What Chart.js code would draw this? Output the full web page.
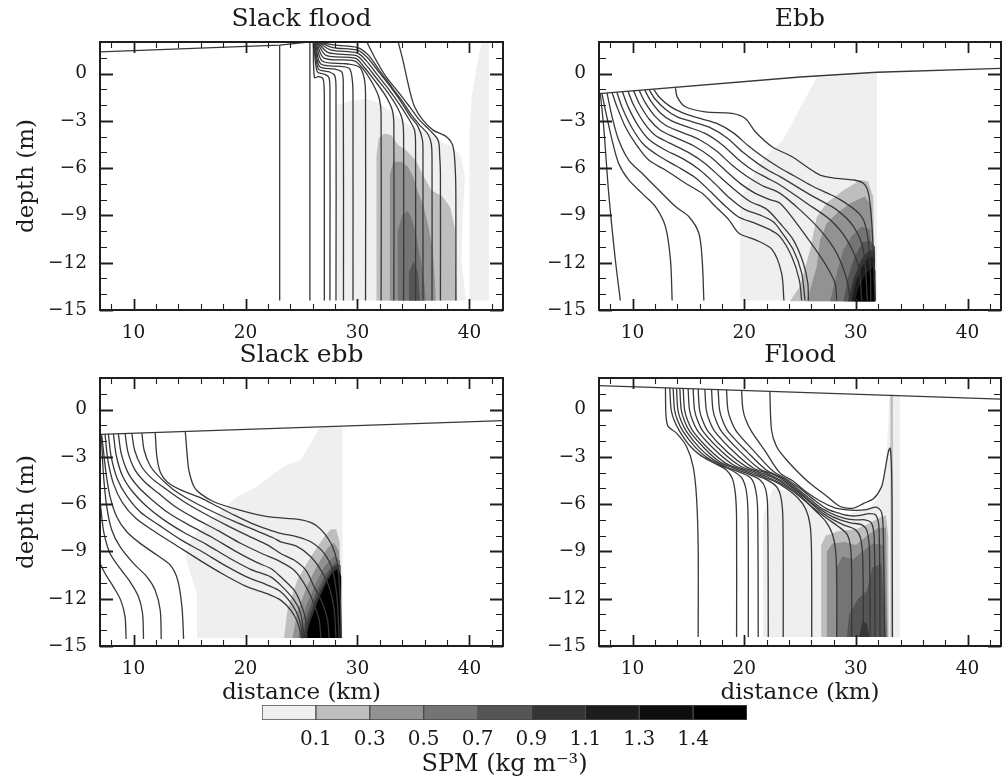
<!DOCTYPE html>
<html>
<head>
<meta charset="utf-8">
<title>SPM sections</title>
<script src="https://cdn.jsdelivr.net/npm/chart.js@4.4.1/dist/chart.umd.min.js"></script>
<style>
  body { margin: 0; background: #fff; }
  #page { position: relative; width: 1008px; height: 780px; overflow: hidden; background: #fff; }
  canvas { position: absolute; }
</style>
</head>
<body>
<div id="page">
  <canvas id="slackFlood" width="510" height="345" style="left:0;top:0"></canvas>
  <canvas id="ebb" width="498" height="345" style="left:510px;top:0"></canvas>
  <canvas id="slackEbb" width="510" height="372" style="left:0;top:336px"></canvas>
  <canvas id="flood" width="498" height="372" style="left:510px;top:336px"></canvas>
  <canvas id="spmBar" width="530" height="80" style="left:240px;top:700px"></canvas>
</div>
<script>
// axes
const xTicks = [10, 20, 30, 40];
const xMinorTicks = [8, 12, 14, 16, 18, 22, 24, 26, 28, 32, 34, 36, 38, 42];
const depthTicks = [0, -3, -6, -9, -12, -15];
const depthMinorTicks = [1, -1, -2, -4, -5, -7, -8, -10, -11, -13, -14];

// colour bar (SPM classes)
const spmLabels = ['0.1', '0.3', '0.5', '0.7', '0.9', '1.1', '1.3', '1.4'];
const spmTickPos = [1, 2, 3, 4, 5, 6, 7, 8];
const spmShades = ['#efefef', '#bebebe', '#929292', '#747474', '#555555', '#353535', '#1d1d1d', '#0d0d0d', '#000000'];

// ---- Slack flood ----
const slackFloodSurface = [[7, 1.37], [23.05, 1.8], [27, 2.1]];
const slackFloodLines = [
  [[23.05, 1.8], [23.05, -14.4]],
  [[25.75, 2.1], [25.75, -14.4]],
  [[26.05, 2.0], [26.15, -0.25], [26.5, -0.2], [26.9, -0.3], [27.02, -0.9], [27.04, -2.0], [27.04, -14.4]],
  [[26.1, 2.0], [26.4, 0.12], [27.1, -0.05], [27.45, -0.25], [27.54, -1.0], [27.54, -14.4]],
  [[26.15, 2.0], [26.5, 0.3], [27.5, 0.1], [27.95, -0.1], [28.08, -0.8], [28.08, -14.4]],
  [[26.2, 2.0], [26.6, 0.45], [28.0, 0.28], [28.6, 0.1], [28.73, -0.6], [28.75, -14.4]],
  [[26.25, 2.0], [26.7, 0.62], [28.5, 0.45], [29.3, 0.3], [29.55, -0.5], [29.6, -1.5], [29.6, -14.4]],
  [[26.3, 2.0], [26.85, 0.8], [29.0, 0.62], [30.2, 0.4], [30.6, -0.3], [30.72, -1.3], [30.72, -14.4]],
  [[26.35, 2.0], [27.0, 0.98], [29.7, 0.8], [30.5, 0.3], [31.4, -0.7], [31.95, -1.6], [32.11, -2.6], [32.11, -14.4]],
  [[26.4, 2.0], [27.2, 1.15], [29.8, 0.97], [30.6, 0.4], [31.6, -0.5], [32.5, -1.4], [33.1, -2.3], [33.25, -3.3], [33.25, -14.4]],
  [[26.45, 2.0], [27.4, 1.32], [29.9, 1.13], [30.7, 0.6], [31.7, -0.3], [32.7, -1.2], [33.6, -2.2], [34.0, -2.9], [34.12, -3.8], [34.12, -14.4]],
  [[26.5, 2.0], [27.6, 1.5], [30.0, 1.3], [30.8, 0.8], [31.8, -0.1], [32.8, -1.0], [33.8, -2.0], [34.6, -2.9], [35.1, -3.6], [35.19, -4.6], [35.19, -14.4]],
  [[26.55, 2.0], [27.8, 1.65], [30.0, 1.48], [30.9, 1.0], [31.9, 0.1], [32.9, -0.8], [33.9, -1.8], [34.7, -2.7], [35.4, -3.35], [35.8, -4.2], [35.85, -5.2], [35.85, -14.4]],
  [[26.6, 2.0], [28.0, 1.8], [30.0, 1.65], [31.0, 1.15], [32.0, 0.15], [33.0, -0.8], [34.0, -1.75], [34.8, -2.6], [35.6, -3.3], [36.3, -3.85], [36.6, -4.5], [36.66, -5.5], [36.66, -14.4]],
  [[30.77, 2.1], [31.67, 0.84], [32.56, -0.21], [33.76, -1.27], [34.66, -2.11], [35.55, -2.96], [36.45, -3.59], [37.2, -4.22], [37.35, -5.28], [37.41, -6.33], [37.41, -14.4]],
  [[33.6, 2.1], [34.06, 0.84], [34.66, -1.06], [35.1, -2.11], [35.85, -2.96], [36.75, -3.59], [37.94, -4.01], [38.54, -4.64], [38.75, -6.33], [38.79, -8.0], [38.79, -14.4]]
];
const slackFloodShading = [
  [1, [[28.2, -14.4], [28.2, -2.0], [29.5, -1.7], [30.8, -1.6], [32.0, -1.9], [33.2, -2.5], [34.4, -3.2], [35.6, -3.6], [36.6, -3.9], [37.6, -4.4], [38.4, -4.6], [39.2, -5.2], [39.6, -6.5], [39.4, -9.0], [39.3, -12.0], [39.7, -14.4]]],
  [1, [[40.05, -14.4], [40.0, -4.0], [40.2, -1.5], [40.8, 1.0], [41.1, 2.0], [41.75, 2.0], [41.75, -14.4]]],
  [2, [[31.7, -14.4], [31.7, -5.2], [31.9, -4.1], [32.4, -3.8], [33.0, -3.9], [33.6, -4.5], [34.4, -4.9], [35.2, -5.5], [35.9, -6.5], [36.6, -7.4], [37.6, -7.8], [38.3, -8.5], [38.7, -9.8], [38.8, -12.5], [38.9, -14.4]]],
  [3, [[32.9, -14.4], [32.9, -6.4], [33.2, -5.6], [33.9, -5.6], [34.5, -5.9], [35.0, -6.6], [35.4, -7.5], [35.9, -8.4], [36.3, -9.6], [36.7, -11.0], [36.9, -13.0], [37.0, -14.4]]],
  [4, [[33.6, -14.4], [33.6, -10.0], [34.0, -9.0], [34.5, -8.7], [34.9, -9.3], [35.3, -10.5], [35.7, -12.0], [36.0, -13.5], [36.1, -14.4]]],
  [5, [[34.6, -14.4], [34.6, -12.6], [35.0, -11.9], [35.4, -12.6], [35.6, -14.4]]]
];

// ---- Ebb ----
const ebbSurface = [[7, -1.27], [25, -0.22], [31.9, 0.08], [43, 0.33]];
const ebbLines = [
  [[7.12, -1.27], [7.42, -3.38], [7.87, -7.6], [8.46, -11.8], [8.91, -14.4]],
  [[7.27, -1.27], [7.57, -2.32], [8.17, -4.22], [8.76, -5.7], [9.66, -6.75], [10.86, -7.6], [12.05, -8.44], [12.95, -9.71], [13.4, -11.82], [13.55, -14.4]],
  [[7.72, -1.25], [8.17, -2.74], [8.76, -4.22], [9.66, -5.49], [10.86, -6.33], [12.35, -7.39], [13.85, -8.44], [15.04, -9.07], [15.94, -10.13], [16.24, -11.82], [16.39, -14.4]],
  [[8.17, -1.2], [8.61, -2.11], [9.36, -3.38], [10.26, -4.43], [11.45, -5.49], [12.95, -6.12], [14.74, -6.96], [16.24, -7.6], [17.43, -8.44], [18.63, -9.28], [19.53, -10.13], [21.02, -10.55], [22.52, -11.18], [23.35, -12.66], [23.56, -14.4]],
  [[8.6, -1.19], [9.1, -2.2], [10.0, -3.5], [11.0, -4.5], [12.3, -5.2], [14.0, -5.9], [15.6, -6.6], [17.0, -7.5], [18.3, -8.4], [19.5, -9.1], [21.0, -9.5], [22.3, -9.9], [23.21, -10.34], [24.26, -11.6], [24.94, -13.1], [25.15, -14.4]],
  [[9.1, -1.16], [9.6, -2.1], [10.5, -3.3], [11.5, -4.2], [12.8, -4.8], [14.5, -5.4], [16.0, -6.1], [17.4, -7.0], [18.7, -7.9], [20.0, -8.6], [21.5, -9.0], [22.6, -9.4], [23.21, -9.92], [24.4, -11.18], [25.15, -12.66], [25.45, -14.4]],
  [[9.6, -1.13], [10.1, -2.0], [11.0, -3.1], [12.0, -3.9], [13.3, -4.4], [15.0, -5.0], [16.5, -5.7], [17.9, -6.6], [19.2, -7.4], [20.5, -8.1], [22.0, -8.6], [23.21, -9.5], [24.4, -10.55], [25.3, -12.03], [25.7, -13.3], [25.75, -14.4]],
  [[10.1, -1.1], [10.6, -1.9], [11.5, -2.9], [12.5, -3.6], [13.8, -4.05], [15.5, -4.6], [17.0, -5.3], [18.4, -6.2], [19.7, -7.0], [21.0, -7.6], [22.3, -8.0], [23.21, -8.23], [24.7, -9.5], [26.2, -10.97], [27.4, -12.24], [28.14, -13.3], [28.29, -14.4]],
  [[10.6, -1.07], [11.1, -1.8], [12.0, -2.7], [13.0, -3.3], [14.3, -3.7], [16.0, -4.2], [17.5, -4.9], [18.9, -5.8], [20.2, -6.5], [21.6, -7.1], [23.21, -7.6], [25.0, -8.65], [26.8, -9.92], [28.29, -11.4], [29.2, -13.1], [29.5, -14.4]],
  [[11.1, -1.05], [11.6, -1.7], [12.5, -2.5], [13.5, -3.0], [14.8, -3.35], [16.5, -3.8], [18.0, -4.5], [19.4, -5.4], [20.7, -6.1], [22.0, -6.6], [23.21, -7.07], [25.6, -8.23], [27.7, -9.28], [29.2, -10.55], [30.24, -12.24], [30.53, -14.4]],
  [[11.5, -1.03], [12.0, -1.6], [13.0, -2.3], [14.0, -2.75], [15.3, -3.05], [17.0, -3.45], [18.5, -4.1], [19.9, -5.0], [21.2, -5.7], [22.3, -6.2], [23.21, -6.54], [26.2, -7.81], [28.29, -8.65], [29.79, -9.71], [30.68, -11.18], [31.04, -14.4]],
  [[11.9, -1.0], [12.4, -1.5], [13.4, -2.1], [14.5, -2.5], [15.8, -2.8], [17.5, -3.15], [19.0, -3.75], [20.4, -4.6], [21.7, -5.3], [23.0, -5.9], [24.5, -6.5], [26.0, -7.1], [27.5, -7.6], [28.6, -8.0], [30.1, -8.75], [30.7, -9.3], [31.1, -10.5], [31.3, -12.5], [31.35, -14.4]],
  [[13.85, -0.92], [14.0, -1.48], [14.74, -2.11], [16.5, -2.43], [18.9, -2.53], [20.1, -2.85], [21.0, -3.69], [22.5, -4.64], [24.3, -5.28], [25.6, -5.91], [26.8, -6.44], [28.29, -6.65], [29.79, -6.75], [30.68, -6.96], [31.13, -7.6], [31.43, -9.5], [31.64, -12.66], [31.73, -14.4]]
];
const ebbShading = [
  [1, [[19.62, -14.4], [19.62, -8.0], [21.5, -5.6], [23.5, -4.2], [25.0, -2.2], [26.5, -0.25], [31.9, 0.02], [31.9, -14.4]]],
  [2, [[24.1, -14.45], [25.0, -13.5], [25.9, -11.2], [26.5, -9.1], [27.4, -8.2], [28.9, -7.4], [30.4, -6.75], [31.1, -6.85], [31.55, -7.8], [31.75, -14.45]]],
  [3, [[25.6, -14.45], [26.5, -12.24], [26.8, -10.55], [27.4, -9.5], [28.3, -8.86], [29.5, -8.23], [30.8, -7.8], [31.4, -8.4], [31.7, -14.45]]],
  [4, [[27.7, -14.45], [28.3, -12.66], [28.9, -11.18], [29.6, -10.34], [30.5, -9.7], [31.3, -9.9], [31.7, -14.45]]],
  [5, [[28.9, -14.45], [29.3, -12.9], [29.9, -11.6], [30.6, -10.7], [31.3, -10.6], [31.72, -11.0], [31.72, -14.45]]],
  [6, [[29.3, -14.45], [29.8, -13.0], [30.5, -11.8], [31.2, -11.2], [31.72, -11.3], [31.72, -14.45]]],
  [7, [[29.6, -14.45], [30.0, -13.2], [30.6, -12.2], [31.2, -11.6], [31.7, -11.7], [31.75, -14.45]]],
  [9, [[29.9, -14.45], [30.3, -13.5], [30.9, -12.7], [31.5, -12.3], [31.75, -12.5], [31.75, -14.45]]]
];

// ---- Slack ebb ----
const slackEbbSurface = [[7, -1.58], [43, -0.7]];
const slackEbbLines = [
  [[7.0, -9.76], [7.45, -10.4], [8.2, -11.25], [8.85, -12.09], [9.24, -13.15], [9.33, -14.55]],
  [[7.0, -5.7], [7.09, -6.37], [7.36, -7.86], [7.9, -9.13], [8.79, -10.08], [9.69, -10.93], [10.44, -11.88], [10.8, -12.94], [10.89, -14.55]],
  [[7.12, -1.6], [7.3, -4.04], [7.6, -6.16], [8.05, -7.64], [8.79, -8.7], [9.99, -9.76], [11.19, -10.61], [11.93, -11.46], [12.38, -12.73], [12.47, -14.55]],
  [[7.15, -1.6], [7.3, -2.56], [7.54, -4.04], [7.9, -5.53], [8.49, -6.8], [9.39, -7.75], [10.59, -8.49], [12.08, -9.23], [13.28, -9.87], [13.94, -10.82], [14.32, -12.52], [14.47, -14.55]],
  [[7.45, -1.57], [7.7, -3.2], [8.2, -4.7], [9.0, -5.9], [10.2, -6.9], [12.0, -7.8], [14.0, -8.7], [16.0, -9.6], [18.0, -10.45], [20.0, -11.2], [22.0, -11.7], [23.14, -12.09], [24.04, -12.73], [24.63, -13.47], [25.02, -14.5]],
  [[7.75, -1.56], [8.0, -3.0], [8.55, -4.4], [9.4, -5.5], [10.6, -6.5], [12.3, -7.35], [14.2, -8.25], [16.2, -9.05], [18.2, -9.9], [20.2, -10.65], [22.0, -11.15], [23.14, -11.56], [24.19, -12.41], [24.78, -13.26], [25.14, -14.5]],
  [[8.2, -1.55], [8.45, -2.9], [9.0, -4.2], [9.9, -5.2], [11.1, -6.1], [12.7, -7.0], [14.5, -7.8], [16.5, -8.55], [18.5, -9.4], [20.5, -10.15], [22.2, -10.6], [23.14, -11.14], [24.34, -12.09], [24.93, -12.94], [25.23, -14.5]],
  [[8.64, -1.54], [8.9, -2.8], [9.5, -4.0], [10.4, -4.9], [11.6, -5.7], [13.2, -6.6], [15.0, -7.35], [17.0, -8.1], [19.0, -8.95], [21.0, -9.7], [22.3, -10.1], [23.14, -10.61], [24.34, -11.46], [24.93, -12.3], [25.38, -13.37], [25.47, -14.5]],
  [[9.24, -1.52], [9.5, -2.7], [10.1, -3.8], [11.0, -4.6], [12.2, -5.3], [13.8, -6.2], [15.6, -6.95], [17.6, -7.7], [19.6, -8.5], [21.5, -9.15], [23.14, -9.66], [24.34, -10.19], [25.23, -11.03], [25.98, -12.09], [26.58, -13.37], [26.73, -14.5]],
  [[9.84, -1.51], [10.1, -2.6], [10.7, -3.6], [11.6, -4.35], [12.8, -5.0], [14.4, -5.8], [16.2, -6.55], [18.2, -7.3], [20.2, -8.0], [22.0, -8.6], [23.14, -9.13], [24.34, -9.55], [25.38, -10.19], [26.13, -11.25], [26.88, -12.3], [27.33, -13.37], [27.47, -14.5]],
  [[10.74, -1.49], [10.95, -2.6], [11.5, -3.6], [12.4, -4.35], [13.6, -5.1], [15.2, -5.8], [17.0, -6.45], [19.0, -7.1], [21.0, -7.7], [22.5, -8.15], [23.14, -8.39], [24.63, -8.7], [25.83, -9.34], [26.73, -10.19], [27.47, -11.25], [27.92, -12.73], [28.07, -14.5]],
  [[11.93, -1.46], [12.08, -2.98], [12.4, -4.0], [13.0, -4.6], [14.2, -5.1], [16.0, -5.6], [17.5, -6.15], [19.0, -6.7], [20.5, -7.2], [22.0, -7.6], [23.14, -7.86], [24.6, -8.07], [25.83, -8.39], [27.03, -9.13], [27.77, -10.19], [28.16, -11.88], [28.37, -14.5]],
  [[14.62, -1.39], [14.8, -3.0], [14.95, -3.9], [15.4, -4.9], [16.0, -5.35], [17.17, -5.85], [19.56, -6.4], [21.95, -6.8], [25.0, -7.0], [26.4, -7.4], [27.6, -8.45], [28.2, -9.76], [28.45, -11.88], [28.55, -14.5]]
];
const slackEbbShading = [
  [1, [[15.67, -14.5], [15.67, -11.67], [15.07, -10.4], [14.62, -9.34], [15.07, -8.28], [16.87, -7.01], [19.26, -5.53], [21.05, -4.89], [22.55, -4.04], [23.74, -3.51], [24.94, -3.19], [26.1, -1.8], [26.6, -1.15], [28.67, -1.1], [28.67, -14.5]]],
  [2, [[23.44, -14.5], [23.74, -12.73], [24.63, -10.82], [25.83, -9.34], [27.03, -8.07], [27.62, -7.6], [28.1, -7.6], [28.4, -8.4], [28.55, -14.5]]],
  [3, [[24.2, -14.5], [24.6, -12.9], [25.5, -11.2], [26.4, -9.9], [27.3, -8.8], [27.9, -8.45], [28.35, -9.0], [28.55, -14.5]]],
  [4, [[24.7, -14.5], [25.3, -12.7], [26.1, -11.3], [27.0, -10.0], [27.9, -9.3], [28.45, -9.6], [28.55, -14.5]]],
  [5, [[24.9, -14.5], [25.5, -13.0], [26.3, -11.6], [27.2, -10.4], [28.0, -9.7], [28.5, -9.9], [28.55, -14.5]]],
  [6, [[25.1, -14.5], [25.6, -13.3], [26.3, -12.0], [27.1, -10.9], [27.8, -10.0], [28.3, -9.8], [28.55, -14.5]]],
  [9, [[25.35, -14.5], [25.8, -13.4], [26.5, -12.1], [27.2, -11.0], [27.8, -10.3], [28.3, -10.1], [28.55, -10.6], [28.55, -14.5]]]
];

// ---- Flood ----
const floodSurface = [[7, 1.52], [43, 0.66]];
const floodLines = [
  [[12.95, 1.38], [13.0, -0.4], [13.19, -1.07], [13.94, -1.5], [14.84, -2.35], [15.43, -3.62], [15.73, -5.53], [15.88, -8.7], [15.88, -14.43]],
  [[13.34, 1.37], [13.46, 0.0], [13.74, -0.7], [14.24, -1.4], [15.13, -2.3], [16.0, -2.86], [17.2, -3.36], [18.4, -3.83], [18.95, -4.4], [19.22, -5.4], [19.32, -7.0], [19.32, -14.43]],
  [[13.64, 1.36], [13.76, 0.0], [14.04, -0.7], [14.54, -1.4], [15.57, -2.35], [16.6, -3.01], [17.8, -3.51], [19.0, -3.9], [19.8, -4.35], [20.2, -5.2], [20.35, -6.8], [20.37, -14.43]],
  [[13.94, 1.35], [14.06, 0.0], [14.34, -0.7], [14.84, -1.4], [16.0, -2.43], [17.2, -3.16], [18.4, -3.63], [19.6, -3.97], [20.6, -4.35], [21.0, -5.0], [21.2, -6.2], [21.26, -14.43]],
  [[14.24, 1.35], [14.36, 0.0], [14.64, -0.7], [15.14, -1.4], [16.5, -2.5], [17.8, -3.31], [19.0, -3.7], [20.2, -4.04], [21.4, -4.45], [21.9, -5.0], [22.1, -6.2], [22.16, -14.43]],
  [[14.54, 1.34], [14.66, 0.0], [14.94, -0.7], [15.44, -1.4], [16.9, -2.55], [18.4, -3.43], [19.6, -3.77], [20.8, -4.11], [22.0, -4.45], [22.9, -4.9], [23.3, -5.6], [23.47, -7.0], [23.5, -14.43]],
  [[14.98, 1.33], [15.1, 0.0], [15.38, -0.7], [15.88, -1.4], [17.44, -2.6], [19.0, -3.5], [20.2, -3.84], [21.4, -4.18], [22.6, -4.52], [23.8, -5.02], [24.8, -5.6], [25.5, -6.3], [25.9, -7.3], [26.03, -9.0], [26.05, -14.43]],
  [[15.43, 1.32], [15.55, 0.0], [15.83, -0.7], [16.33, -1.4], [17.97, -2.65], [19.6, -3.57], [20.8, -3.91], [22.0, -4.25], [23.2, -4.67], [24.4, -5.2], [25.6, -5.9], [26.5, -6.5], [27.3, -7.1], [27.9, -7.9], [28.2, -9.0], [28.29, -11.0], [28.29, -14.43]],
  [[15.88, 1.31], [16.0, 0.0], [16.28, -0.7], [16.78, -1.4], [18.49, -2.7], [20.2, -3.64], [21.4, -3.98], [22.6, -4.32], [23.8, -4.82], [25.0, -5.45], [26.2, -6.25], [27.4, -6.9], [28.4, -7.4], [29.2, -7.9], [29.5, -8.6], [29.62, -10.0], [29.63, -14.43]],
  [[16.48, 1.29], [16.6, 0.0], [16.88, -0.7], [17.38, -1.4], [19.09, -2.7], [20.8, -3.71], [22.0, -4.05], [23.2, -4.47], [24.4, -5.0], [25.6, -5.7], [26.8, -6.45], [28.0, -7.0], [29.0, -7.35], [29.9, -7.6], [30.4, -8.1], [30.62, -9.5], [30.68, -14.43]],
  [[17.08, 1.28], [17.2, 0.0], [17.48, -0.7], [17.98, -1.4], [19.69, -2.7], [21.4, -3.78], [22.6, -4.12], [23.8, -4.62], [25.0, -5.25], [26.2, -6.0], [27.4, -6.6], [28.6, -7.0], [29.6, -7.2], [30.5, -7.3], [31.0, -7.7], [31.22, -9.0], [31.28, -14.43]],
  [[17.67, 1.27], [17.79, 0.0], [18.07, -0.7], [18.57, -1.4], [20.29, -2.7], [22.0, -3.85], [23.2, -4.27], [24.4, -4.8], [25.6, -5.5], [26.8, -6.2], [28.0, -6.65], [29.0, -6.9], [30.0, -7.0], [30.8, -7.0], [31.4, -7.2], [31.65, -8.2], [31.73, -14.43]],
  [[18.42, 1.25], [18.54, 0.0], [18.82, -0.7], [19.32, -1.4], [20.96, -2.7], [22.6, -3.92], [23.8, -4.42], [25.0, -5.0], [26.2, -5.7], [27.4, -6.3], [28.6, -6.6], [29.6, -6.75], [30.5, -6.7], [31.2, -6.6], [31.8, -6.7], [32.08, -7.6], [32.17, -14.43]],
  [[19.77, 1.21], [19.89, 0.0], [20.17, -0.7], [20.67, -1.4], [21.94, -2.7], [23.2, -4.02], [24.4, -4.55], [25.6, -5.25], [26.8, -5.8], [28.0, -6.2], [29.0, -6.35], [30.0, -6.4], [30.97, -6.35], [31.87, -6.2], [32.32, -6.55], [32.47, -8.2], [32.56, -14.43]],
  [[22.3, 1.15], [22.45, -1.3], [22.9, -2.35], [23.8, -3.2], [25.6, -4.5], [27.4, -5.5], [28.6, -6.15], [29.8, -6.25], [30.7, -5.95], [31.6, -5.65], [32.3, -4.9], [32.62, -3.83], [32.92, -2.66], [33.07, -2.45], [33.19, -3.62], [33.25, -6.58], [33.28, -14.43]]
];
const floodShading = [
  [1, [[21.7, -14.43], [21.7, -6.7], [22.6, -5.0], [24.0, -5.2], [25.6, -6.0], [26.8, -6.6], [28.0, -6.8], [29.5, -6.6], [30.7, -6.3], [31.6, -6.0], [32.3, -5.2], [32.6, -4.0], [32.9, -1.0], [33.0, 0.95], [33.95, 0.95], [33.95, -14.43]]],
  [2, [[33.1, -14.43], [33.1, 0.95], [33.32, 0.95], [33.32, -14.43]]],
  [2, [[26.9, -14.43], [26.9, -8.6], [27.3, -8.0], [28.5, -7.7], [30.0, -7.6], [31.0, -7.3], [32.0, -6.9], [32.7, -6.7], [32.9, -8.0], [32.95, -14.43]]],
  [3, [[27.4, -14.43], [27.4, -9.0], [27.9, -8.5], [29.0, -8.4], [30.0, -8.6], [31.0, -8.0], [32.0, -7.5], [32.7, -7.5], [32.85, -14.43]]],
  [4, [[28.3, -14.43], [28.3, -10.0], [28.8, -9.3], [29.8, -9.5], [30.6, -9.0], [31.5, -8.5], [32.5, -8.6], [32.8, -14.43]]],
  [5, [[29.2, -14.43], [29.4, -13.0], [30.2, -12.0], [31.0, -11.5], [31.5, -10.0], [32.3, -9.8], [32.7, -14.43]]],
  [6, [[30.3, -14.43], [30.6, -13.4], [31.0, -13.6], [31.2, -14.43]]]
];

Chart.defaults.font.family = "'DejaVu Serif', 'Liberation Serif', serif";
Chart.defaults.color = '#1a1a1a';

const lineColor = '#383838';
const asPoints = pts => pts.map(([x, y]) => ({ x, y }));
const minusSign = v => (v < 0 ? '\u2212' + Math.abs(v) : String(v));

// box frame with inward ticks on all four sides
const frameAndTicks = {
  id: 'frameAndTicks',
  afterDatasetsDraw(chart) {
    const { ctx, chartArea: a, scales: { x, y } } = chart;
    ctx.save();
    ctx.strokeStyle = '#1e1e1e';
    const xMark = (v, len) => {
      const p = Math.round(x.getPixelForValue(v)) + 0.5;
      ctx.moveTo(p, a.bottom); ctx.lineTo(p, a.bottom - len);
      ctx.moveTo(p, a.top); ctx.lineTo(p, a.top + len);
    };
    const yMark = (v, len) => {
      const p = Math.round(y.getPixelForValue(v)) + 0.5;
      ctx.moveTo(a.left, p); ctx.lineTo(a.left + len, p);
      ctx.moveTo(a.right, p); ctx.lineTo(a.right - len, p);
    };
    ctx.lineWidth = 1.1;
    ctx.beginPath();
    xMinorTicks.forEach(v => xMark(v, 6));
    depthMinorTicks.forEach(v => yMark(v, 7));
    ctx.stroke();
    ctx.lineWidth = 1.8;
    ctx.beginPath();
    xTicks.forEach(v => xMark(v, 11));
    depthTicks.forEach(v => yMark(v, 13));
    ctx.stroke();
    ctx.lineWidth = 2;
    ctx.strokeRect(a.left, a.top, a.right - a.left, a.bottom - a.top);
    ctx.restore();
  }
};

function makePanel(id, title, surface, lines, shading, opts) {
  const datasets = [];
  lines.forEach(pts => datasets.push({
    data: asPoints(pts), borderColor: lineColor, borderWidth: 1.3, tension: 0.3, order: 0
  }));
  datasets.push({ data: asPoints(surface), borderColor: lineColor, borderWidth: 1.3, tension: 0, order: 0 });
  shading.forEach(([level, pts]) => datasets.push({
    data: asPoints(pts),
    backgroundColor: spmShades[level - 1],
    borderColor: 'rgba(0,0,0,0)',
    borderWidth: 0,
    fill: 'shape',
    tension: 0,
    order: 20 - level
  }));

  return new Chart(document.getElementById(id), {
    type: 'line',
    data: { datasets },
    options: {
      responsive: false,
      animation: false,
      events: [],
      elements: { point: { radius: 0, hitRadius: 0 }, line: { fill: false } },
      layout: { padding: { right: 7 } },
      plugins: {
        legend: { display: false },
        tooltip: { enabled: false },
        title: {
          display: true, text: title, fullSize: false,
          font: { size: 25, weight: 'normal' },
          padding: { top: 4, bottom: 8 }
        }
      },
      scales: {
        x: {
          type: 'linear', min: 7, max: 43,
          grid: { display: false, drawTicks: false },
          border: { display: false },
          afterBuildTicks: s => { s.ticks = xTicks.map(v => ({ value: v })); },
          afterFit: s => { s.height = opts.xHeight; },
          ticks: { font: { size: 18.5 }, padding: 12, maxRotation: 0 },
          title: {
            display: opts.xTitle, text: 'distance (km)',
            font: { size: 23 }, padding: { top: 0, bottom: 1 }
          }
        },
        y: {
          type: 'linear', min: -15, max: 2,
          grid: { display: false, drawTicks: false },
          border: { display: false },
          afterBuildTicks: s => { s.ticks = depthTicks.map(v => ({ value: v })); },
          afterFit: s => { s.width = opts.yWidth; },
          ticks: { font: { size: 18.5 }, padding: 13, callback: v => minusSign(v) },
          title: {
            display: opts.yTitle, text: 'depth (m)',
            font: { size: 23 }, padding: { top: 13, bottom: 0 }
          }
        }
      }
    },
    plugins: [frameAndTicks]
  });
}

makePanel('slackFlood', 'Slack flood', slackFloodSurface, slackFloodLines, slackFloodShading,
  { yWidth: 100, xHeight: 35, yTitle: true, xTitle: false });
makePanel('ebb', 'Ebb', ebbSurface, ebbLines, ebbShading,
  { yWidth: 89, xHeight: 35, yTitle: false, xTitle: false });
makePanel('slackEbb', 'Slack ebb', slackEbbSurface, slackEbbLines, slackEbbShading,
  { yWidth: 100, xHeight: 62, yTitle: true, xTitle: true });
makePanel('flood', 'Flood', floodSurface, floodLines, floodShading,
  { yWidth: 89, xHeight: 62, yTitle: false, xTitle: true });

// colour bar: one stacked horizontal bar, one segment per SPM class
new Chart(document.getElementById('spmBar'), {
  type: 'bar',
  data: {
    labels: ['SPM'],
    datasets: spmShades.map(c => ({
      data: [1], backgroundColor: c, borderColor: '#4a4a4a', borderWidth: 1,
      borderSkipped: false, barPercentage: 1, categoryPercentage: 1
    }))
  },
  options: {
    indexAxis: 'y',
    responsive: false,
    animation: false,
    events: [],
    layout: { padding: { left: 22, right: 23, top: 5, bottom: 0 } },
    plugins: { legend: { display: false }, tooltip: { enabled: false } },
    scales: {
      y: { stacked: true, display: false },
      x: {
        stacked: true, min: 0, max: 9,
        grid: { display: false, drawTicks: false },
        border: { display: false },
        afterBuildTicks: s => { s.ticks = spmTickPos.map(v => ({ value: v })); },
        afterFit: s => { s.height = 60; },
        ticks: { font: { size: 20 }, padding: 8, callback: (v, i) => spmLabels[i] },
        title: {
          display: true, text: 'SPM (kg m\u207B\u00B3)',
          font: { size: 24 }, padding: { top: 0, bottom: 1 }
        }
      }
    }
  }
});
</script>
</body>
</html>
